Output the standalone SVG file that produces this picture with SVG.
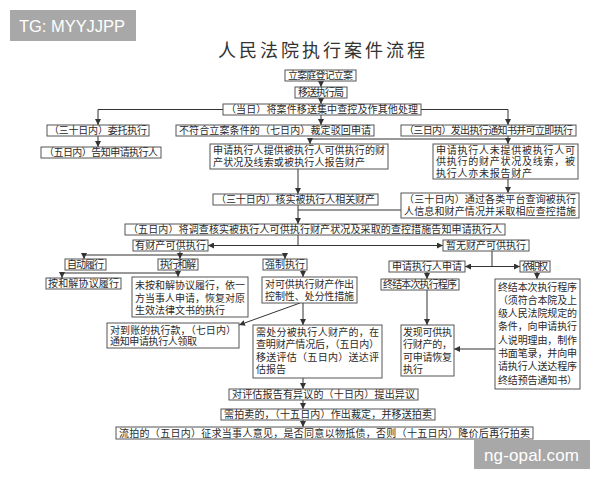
<svg xmlns="http://www.w3.org/2000/svg" width="600" height="480" viewBox="0 0 600 480">
<defs>
<style>
.b{fill:#fff;stroke:#555;stroke-width:1}
.t{font-family:"Liberation Sans","Noto Sans CJK SC","Noto Sans CJK TC",sans-serif;font-size:10px;fill:#2a2a2a}
.c{fill:none;stroke:#333;stroke-width:1}
.a{marker-end:url(#ar)}
.wm{fill:#a8a8a8}
.wt{font-family:"Liberation Sans",Arial,sans-serif;fill:#fff}
</style>
<marker id="ar" markerUnits="userSpaceOnUse" markerWidth="6" markerHeight="6" refX="6" refY="3" orient="auto">
<path d="M0,0 L6,3 L0,6 z" fill="#333"/>
</marker>
</defs>
<rect width="600" height="480" fill="#fff"/>
<g id="watermark-top"><rect class="wm" x="10" y="10" width="126" height="31"/><text class="wt" x="19" y="32" font-size="16.5" textLength="106">TG: MYYJJPP</text></g>
<g id="watermark-bottom"><rect class="wm" x="474" y="440" width="116" height="29"/><text class="wt" x="484" y="461" font-size="17" textLength="95">ng-opal.com</text></g>
<text x="218" y="56.5" font-family="'Liberation Sans','Noto Sans CJK SC',sans-serif" font-size="18" fill="#333" textLength="207">人民法院执行案件流程</text>

<g id="connectors">
<path class="c a" d="M321,81 V87"/>
<path class="c a" d="M321,98 V104"/>
<path class="c a" d="M321,115 V125"/>
<path class="c a" d="M223,109.5 H98 V125"/>
<path class="c a" d="M421,109.5 H508 V125"/>
<path class="c a" d="M98,136 V147"/>
<path class="c a" d="M508,136 V144"/>
<path class="c a" d="M508,139 H310 V144"/>
<path class="c a" d="M298,169 V194"/>
<path class="c a" d="M508,179 V193"/>
<path class="c" d="M401,210 H298"/>
<path class="c a" d="M298,205 V224"/>
<path class="c" d="M298,235 V245.5"/>
<path class="c a" d="M298,245.5 H208"/>
<path class="c a" d="M298,245.5 H443"/>
<path class="c" d="M180,251 V255 M84,255 H285"/>
<path class="c a" d="M84,255 V259"/>
<path class="c a" d="M180,255 V259"/>
<path class="c a" d="M285,255 V259"/>
<path class="c" d="M178,270 V273 M62,273 H178"/>
<path class="c a" d="M62,273 V278"/>
<path class="c a" d="M178,273 V277"/>
<path class="c a" d="M303,270 V277"/>
<path class="c a" d="M300,303 L239,325"/>
<path class="c a" d="M303,303 V325"/>
<path class="c a" d="M303,378 V389"/>
<path class="c a" d="M303,400 V409"/>
<path class="c a" d="M303,420 V427"/>
<path class="c" d="M492,251 V266.5"/>
<path class="c a" d="M492,266.5 H465"/>
<path class="c a" d="M492,266.5 H520"/>
<path class="c a" d="M427,272 V279"/>
<path class="c a" d="M427,290 V325"/>
<path class="c a" d="M537,272 V279"/>
<path class="c a" d="M495,349 H454"/>
</g>

<g id="n1"><rect class="b" x="285" y="70" width="71" height="11"/><text class="t" x="288" y="79.2" textLength="65">立案庭登记立案</text></g>
<g id="n2"><rect class="b" x="295" y="87" width="52" height="11"/><text class="t" x="298" y="96.2" textLength="46">移送执行局</text></g>
<g id="n3"><rect class="b" x="223" y="104" width="198" height="11"/><text class="t" x="226" y="113.2" textLength="192">（当日）将案件移送集中查控及作其他处理</text></g>
<g id="n4"><rect class="b" x="47" y="125" width="102" height="11"/><text class="t" x="49" y="134.2" textLength="98">（三十日内）委托执行</text></g>
<g id="n5"><rect class="b" x="176" y="125" width="198" height="11"/><text class="t" x="179" y="134.2" textLength="192">不符合立案条件的（七日内）裁定驳回申请</text></g>
<g id="n6"><rect class="b" x="401" y="125" width="175" height="11"/><text class="t" x="404" y="134.2" textLength="169">（三日内）发出执行通知书并可立即执行</text></g>
<g id="n7"><rect class="b" x="41" y="147" width="120" height="11"/><text class="t" x="44" y="156.2" textLength="114">（五日内）告知申请执行人</text></g>
<g id="n8"><rect class="b" x="210" y="144" width="178" height="25"/><text class="t"><tspan x="213" y="154.3" textLength="172">申请执行人提供被执行人可供执行的财</tspan><tspan x="213" y="165.7" textLength="152">产状况及线索或被执行人报告财产</tspan></text></g>
<g id="n9"><rect class="b" x="433" y="144" width="145" height="35"/><text class="t"><tspan x="436" y="154" textLength="139">申请执行人未提供被执行人可</tspan><tspan x="436" y="165.4" textLength="139">供执行的财产状况及线索，被</tspan><tspan x="436" y="176.8" textLength="96">执行人亦未报告财产</tspan></text></g>
<g id="n10"><rect class="b" x="213" y="194" width="165" height="11"/><text class="t" x="216" y="203.2" textLength="159">（三十日内）核实被执行人相关财产</text></g>
<g id="n11"><rect class="b" x="401" y="193" width="178" height="25"/><text class="t"><tspan x="404" y="203.3" textLength="172">（三十日内）通过各类平台查询被执行</tspan><tspan x="404" y="214.7" textLength="172">人信息和财产情况并采取相应查控措施</tspan></text></g>
<g id="n12"><rect class="b" x="125" y="224" width="380" height="11"/><text class="t" x="128" y="233.2" textLength="374">（五日内）将调查核实被执行人可供执行财产状况及采取的查控措施告知申请执行人</text></g>
<g id="n13"><rect class="b" x="133" y="240" width="75" height="11"/><text class="t" x="135" y="249.2" textLength="71">有财产可供执行</text></g>
<g id="n14"><rect class="b" x="443" y="240" width="86" height="11"/><text class="t" x="446" y="249.2" textLength="80">暂无财产可供执行</text></g>
<g id="n15"><rect class="b" x="65" y="259" width="41" height="11"/><text class="t" x="67" y="268.2" textLength="37">自动履行</text></g>
<g id="n16"><rect class="b" x="158" y="259" width="40" height="11"/><text class="t" x="160" y="268.2" textLength="36">执行和解</text></g>
<g id="n17"><rect class="b" x="263" y="259" width="44" height="11"/><text class="t" x="265" y="268.2" textLength="40">强制执行</text></g>
<g id="n18"><rect class="b" x="389" y="261" width="76" height="11"/><text class="t" x="392" y="270.2" textLength="70">申请执行人申请</text></g>
<g id="n19"><rect class="b" x="520" y="261" width="30" height="11"/><text class="t" x="522" y="270.2" textLength="26">依职权</text></g>
<g id="n20"><rect class="b" x="46" y="278" width="75" height="11"/><text class="t" x="48" y="287.2" textLength="71">按和解协议履行</text></g>
<g id="n21"><rect class="b" x="132" y="277" width="116" height="40"/><text class="t"><tspan x="135" y="288.5" textLength="110">未按和解协议履行，依一</tspan><tspan x="135" y="301.5" textLength="110">方当事人申请，恢复对原</tspan><tspan x="135" y="314" textLength="90">生效法律文书的执行</tspan></text></g>
<g id="n22"><rect class="b" x="262" y="277" width="95" height="26"/><text class="t"><tspan x="265" y="288" textLength="89">对可供执行财产作出</tspan><tspan x="265" y="300" textLength="89">控制性、处分性措施</tspan></text></g>
<g id="n23"><rect class="b" x="381" y="279" width="78" height="11"/><text class="t" x="383" y="288.2" textLength="74">终结本次执行程序</text></g>
<g id="n24"><rect class="b" x="495" y="279" width="85" height="110"/><text class="t"><tspan x="498" y="290.5" textLength="79">终结本次执行程序</tspan><tspan x="498" y="303.8" textLength="79">（须符合本院及上</tspan><tspan x="498" y="317.1" textLength="79">级人民法院规定的</tspan><tspan x="498" y="330.4" textLength="79">条件，向申请执行</tspan><tspan x="498" y="343.7" textLength="79">人说明理由，制作</tspan><tspan x="498" y="357" textLength="79">书面笔录，并向申</tspan><tspan x="498" y="370.3" textLength="79">请执行人送达程序</tspan><tspan x="498" y="383.6" textLength="79">终结预告通知书）</tspan></text></g>
<g id="n25"><rect class="b" x="107" y="323" width="132" height="25"/><text class="t"><tspan x="110" y="333.5" textLength="126">对到账的执行款，（七日内）</tspan><tspan x="110" y="345" textLength="87">通知申请执行人领取</tspan></text></g>
<g id="n26"><rect class="b" x="253" y="325" width="129" height="53"/><text class="t"><tspan x="256" y="335.5" textLength="123">需处分被执行人财产的，在</tspan><tspan x="256" y="348" textLength="123">查明财产情况后，（五日内）</tspan><tspan x="256" y="360.5" textLength="123">移送评估（五日内）送达评</tspan><tspan x="256" y="373">估报告</tspan></text></g>
<g id="n27"><rect class="b" x="401" y="325" width="53" height="51"/><text class="t"><tspan x="403" y="335.5" textLength="49">发现可供执</tspan><tspan x="403" y="348" textLength="49">行财产的，</tspan><tspan x="403" y="360.5" textLength="49">可申请恢复</tspan><tspan x="403" y="373">执行</tspan></text></g>
<g id="n28"><rect class="b" x="229" y="389" width="189" height="11"/><text class="t" x="232" y="398.2" textLength="183">对评估报告有异议的（十日内）提出异议</text></g>
<g id="n29"><rect class="b" x="221" y="409" width="214" height="11"/><text class="t" x="224" y="418.2" textLength="208">需拍卖的，（十五日内）作出裁定，并移送拍卖</text></g>
<g id="n30"><rect class="b" x="116" y="427" width="417" height="12"/><text class="t" x="119" y="436.7" textLength="411">流拍的（五日内）征求当事人意见，是否同意以物抵债，否则（十五日内）降价后再行拍卖</text></g>
</svg>
